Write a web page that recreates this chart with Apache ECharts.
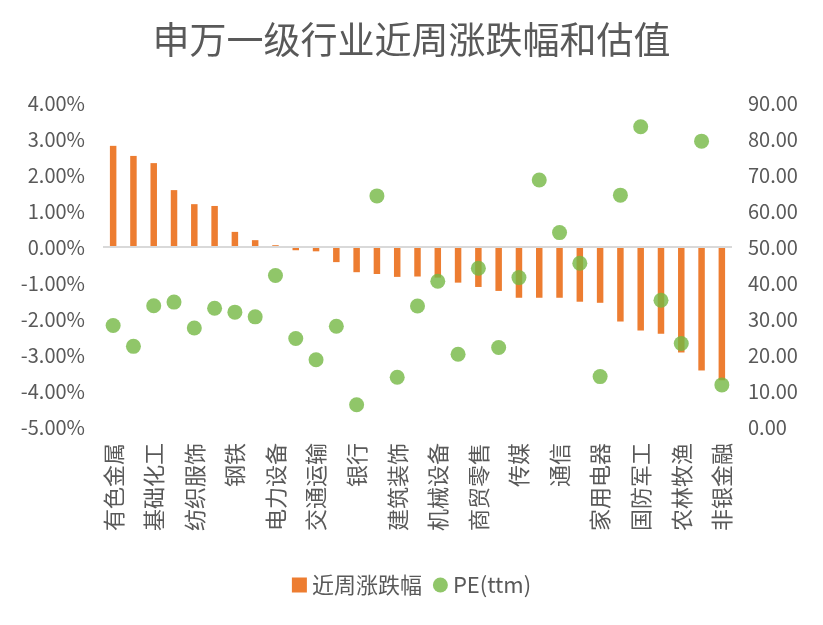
<!DOCTYPE html>
<html>
<head>
<meta charset="utf-8">
<script src="https://cdn.jsdelivr.net/npm/echarts@6/dist/echarts.min.js"></script>
<style>
  html, body { margin: 0; padding: 0; background: #fff; }
  #chart { width: 823px; height: 625px; }
</style>
</head>
<body>
<div id="chart"></div>
<script>
// industries (Shenwan level 1), weekly change (%) and PE(ttm)
var categories = [
  "有色金属", "石油石化", "基础化工", "轻工制造", "纺织服饰", "建筑材料", "钢铁", "汽车",
  "电力设备", "煤炭", "交通运输", "公用事业", "银行", "计算机", "建筑装饰", "环保",
  "机械设备", "房地产", "商贸零售", "食品饮料", "传媒", "电子", "通信", "医药生物",
  "家用电器", "社会服务", "国防军工", "综合", "农林牧渔", "美容护理", "非银金融"
];
var weekChange = [
  2.81, 2.53, 2.33, 1.58, 1.19, 1.14, 0.42, 0.19,
  0.05, -0.09, -0.12, -0.42, -0.70, -0.75, -0.83, -0.82,
  -0.85, -0.99, -1.11, -1.22, -1.41, -1.41, -1.41, -1.52,
  -1.55, -2.07, -2.32, -2.41, -2.93, -3.43, -3.70
];
var peTtm = [
  28.2, 22.4, 33.7, 34.7, 27.5, 33.0, 31.9, 30.6,
  42.1, 24.6, 18.7, 28.0, 6.2, 64.2, 13.8, 33.6,
  40.5, 20.2, 44.1, 22.1, 41.5, 68.6, 54.0, 45.5,
  14.0, 64.4, 83.4, 35.2, 23.2, 79.4, 11.7
];
var legendNames = ["近周涨跌幅", "PE(ttm)"];

var textColor = "#595959";
var fontFamily = "'Noto Sans CJK SC', 'Noto Sans', sans-serif";

var chart = echarts.init(document.getElementById("chart"));
chart.setOption({
  animation: false,
  backgroundColor: "#fff",
  title: {
    text: "申万一级行业近周涨跌幅和估值",
    left: "center",
    top: 16,
    textStyle: {
      color: textColor,
      fontSize: 37,
      fontWeight: "normal",
      fontFamily: fontFamily
    }
  },
  legend: {
    bottom: 24,
    left: "center",
    itemWidth: 15,
    itemHeight: 15,
    itemGap: 11,
    symbolKeepAspect: false,
    itemStyle: { borderWidth: 0 },
    textStyle: { color: textColor, fontSize: 22, fontFamily: fontFamily },
    data: [
      { name: legendNames[0], icon: "rect" },
      { name: legendNames[1], icon: "circle" }
    ]
  },
  grid: {
    left: 103,
    right: 91,
    top: 103,
    bottom: 198
  },
  xAxis: {
    type: "category",
    data: categories,
    axisLine: { show: false, onZero: false },
    axisTick: { show: false },
    axisLabel: {
      interval: 1,
      rotate: 90,
      margin: 16,
      color: textColor,
      fontSize: 22,
      fontFamily: fontFamily
    }
  },
  yAxis: [
    {
      type: "value",
      min: -5,
      max: 4,
      interval: 1,
      splitLine: { show: false },
      axisLine: { show: false },
      axisTick: { show: false },
      axisLabel: {
        margin: 18,
        color: textColor,
        fontSize: 20,
        fontFamily: fontFamily,
        formatter: function (v) { return v.toFixed(2) + "%"; }
      }
    },
    {
      type: "value",
      min: 0,
      max: 90,
      interval: 10,
      splitLine: { show: false },
      axisLine: { show: false },
      axisTick: { show: false },
      axisLabel: {
        margin: 16,
        color: textColor,
        fontSize: 20,
        fontFamily: fontFamily,
        formatter: function (v) { return v.toFixed(2); }
      }
    }
  ],
  series: [
    {
      name: legendNames[0],
      type: "bar",
      yAxisIndex: 0,
      barWidth: "32%",
      data: weekChange,
      itemStyle: { color: "#ED7D31" },
      // zero line across the plot
      markLine: {
        silent: true,
        symbol: "none",
        label: { show: false },
        lineStyle: { color: "#D9D9D9", width: 2, type: "solid" },
        data: [{ yAxis: 0 }]
      },
      z: 2
    },
    {
      name: legendNames[1],
      type: "scatter",
      yAxisIndex: 1,
      symbol: "circle",
      symbolSize: 15,
      data: peTtm,
      itemStyle: { color: "#74B843" },
      z: 3
    }
  ]
});
</script>
</body>
</html>
